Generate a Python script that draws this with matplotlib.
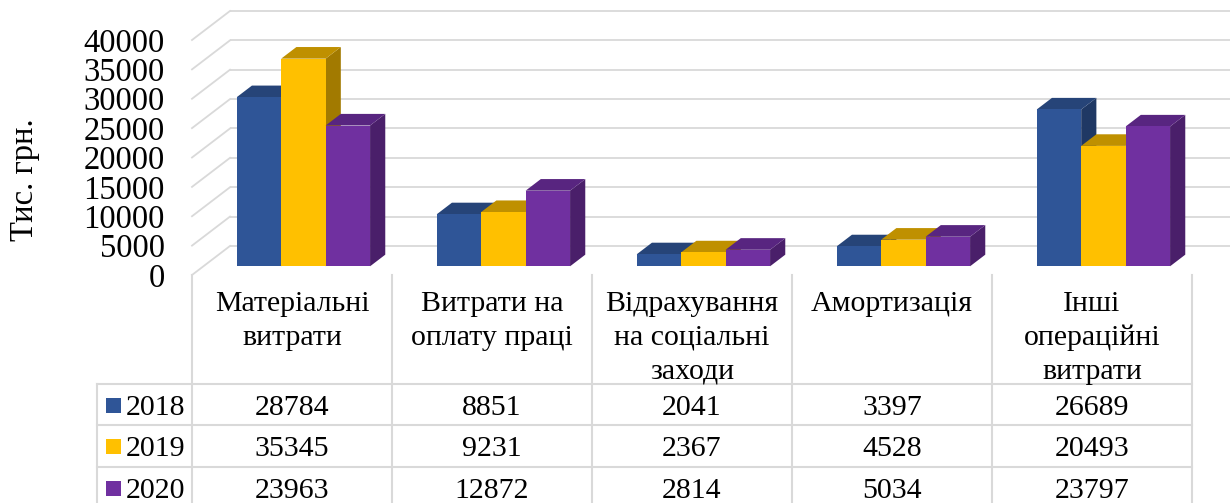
import matplotlib
matplotlib.use("Agg")
import matplotlib.pyplot as plt
from matplotlib.patches import Polygon, Rectangle
import matplotlib.transforms as mtransforms

# ---- data ----
categories = ["Матеріальні\nвитрати", "Витрати на\nоплату праці",
              "Відрахування\nна соціальні\nзаходи", "Амортизація",
              "Інші\nопераційні\nвитрати"]
years = ["2018", "2019", "2020"]
v2018 = [28784, 8851, 2041, 3397, 26689]
v2019 = [35345, 9231, 2367, 4528, 20493]
v2020 = [23963, 12872, 2814, 5034, 23797]
yticks = [0, 5000, 10000, 15000, 20000, 25000, 30000, 35000, 40000]
ylabel = "Тис. грн."

series = [v2018, v2019, v2020]
# front, top, side shades for each year
shades = [("#2F5597", "#264478", "#1F3864"),
          ("#FFC000", "#BF9000", "#A27A00"),
          ("#7030A0", "#582580", "#4A1F6A")]
grid_col = "#D9D9D9"

plt.rcParams['font.family'] = ['Liberation Serif', 'DejaVu Serif']
FS = 21.5       # table text
FS_AX = 23.5    # axis tick labels and axis title

W, H = 1232, 503
fig = plt.figure(figsize=(W / 100, H / 100), dpi=100)

# chart axes: x in category units, y in value units (front plane)
ax = fig.add_axes([192 / W, 1 - 275 / H, 1000 / W, 235 / H])
ax.set_xlim(0, len(categories))
ax.set_ylim(0, 40000)
ax.patch.set_alpha(0)
for s in ax.spines.values():
    s.set_visible(False)
ax.set_xticks([])
ax.set_yticks(yticks)
ax.set_yticklabels([str(t) for t in yticks])
ax.tick_params(axis='y', length=0, pad=19.5, labelsize=FS_AX)

# oblique depth offset of the full floor (category units, value units)
DX, DY = 0.19, 4940
ncat = len(categories)

# back wall and side wall gridlines
for v in yticks:
    ax.plot([DX, ncat + DX], [v + DY, v + DY], color=grid_col, lw=1.3,
            clip_on=False, zorder=1, solid_capstyle='butt')
    ax.plot([0, DX], [v, v + DY], color=grid_col, lw=1.3,
            clip_on=False, zorder=1)

# 3D clustered columns
w = 1 / 4.5          # gap width 150%
f0, d = 0.3, 0.4     # front position and thickness within the depth
z = 5
for i in range(ncat):
    for j, vals in enumerate(series):
        h = vals[i]
        x0 = i + 0.5 - 1.5 * w + j * w + f0 * DX
        b = f0 * DY
        front, top, side = shades[j]
        ox, oy = d * DX, d * DY
        ax.add_patch(Polygon([(x0 + w, b), (x0 + w + ox, b + oy),
                              (x0 + w + ox, b + h + oy), (x0 + w, b + h)],
                             closed=True, facecolor=side, edgecolor='none',
                             clip_on=False, zorder=z))
        ax.add_patch(Polygon([(x0, b + h), (x0 + w, b + h),
                              (x0 + w + ox, b + h + oy), (x0 + ox, b + h + oy)],
                             closed=True, facecolor=top, edgecolor='none',
                             clip_on=False, zorder=z + 1))
        bars = ax.bar(x0, h, width=w, bottom=b, align='edge', color=front,
                      edgecolor='none', zorder=z + 2)
        for p in bars:
            p.set_clip_on(False)
        z += 3

# ---- data table ----
tab = fig.add_axes([0, 0, 1, 1])
tab.set_xlim(0, W)
tab.set_ylim(H, 0)
tab.axis('off')
tab.set_zorder(-1)
bt = mtransforms.blended_transform_factory(ax.transData, tab.transData)

row_lines = [384, 425, 467]
row_base = [415, 456, 498]
table_bottom = 510
left_x = 97
lc = "#D9D9D9"

for k in range(ncat + 1):
    tab.plot([k, k], [275, table_bottom], color=lc, lw=1.5, transform=bt,
             clip_on=False)
tab.plot([left_x, left_x], [row_lines[0], table_bottom], color=lc, lw=1.5,
         clip_on=False)
x_right = ax.transData.transform((ncat, 0))[0]
for yl in row_lines:
    tab.plot([left_x, x_right], [yl, yl], color=lc, lw=1.5, clip_on=False)

for i, cat in enumerate(categories):
    for li, line in enumerate(cat.split("\n")):
        tab.text(i + 0.5, 311 + li * 34, line, transform=bt, ha='center',
                 va='baseline', fontsize=FS, color='black')

for j, (yr, vals) in enumerate(zip(years, series)):
    yb = row_base[j]
    tab.add_patch(Rectangle((106, yb - 17), 15, 15, facecolor=shades[j][0],
                            edgecolor='none'))
    tab.text(126, yb, yr, ha='left', va='baseline', fontsize=FS)
    for i, v in enumerate(vals):
        tab.text(i + 0.5, yb, str(v), transform=bt, ha='center',
                 va='baseline', fontsize=FS)

fig.text(25 / W, 1 - 180 / H, ylabel, rotation=90, ha='center', va='center',
         fontsize=FS_AX)

fig.savefig("out.png", dpi=100)
